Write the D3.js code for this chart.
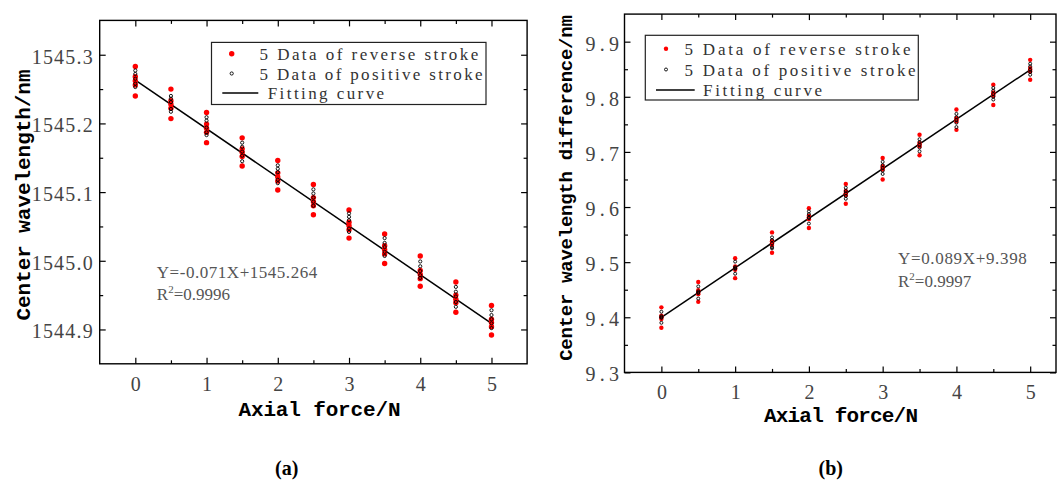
<!DOCTYPE html>
<html><head><meta charset="utf-8">
<script src="https://cdn.jsdelivr.net/npm/d3@7"></script>
<style>body{margin:0;background:#fff;} svg{display:block;}</style>
</head><body>
<svg id="chart" width="1057" height="481"></svg>
<script>
// ---------------- DATA ----------------
const forceLevels = [0, 0.5, 1, 1.5, 2, 2.5, 3, 3.5, 4, 4.5, 5];
const xMajorTicks = [0, 1, 2, 3, 4, 5];
const xMinorTicks = [0.5, 1.5, 2.5, 3.5, 4.5];

// Panel (a): centre wavelength (nm)
const reverseA = [
  [1545.283, 1545.268, 1545.262, 1545.256, 1545.240],
  [1545.250, 1545.233, 1545.228, 1545.222, 1545.207],
  [1545.216, 1545.199, 1545.193, 1545.187, 1545.172],
  [1545.179, 1545.163, 1545.158, 1545.152, 1545.138],
  [1545.146, 1545.128, 1545.122, 1545.116, 1545.103],
  [1545.111, 1545.092, 1545.086, 1545.080, 1545.067],
  [1545.074, 1545.056, 1545.051, 1545.045, 1545.033],
  [1545.039, 1545.022, 1545.016, 1545.010, 1544.996],
  [1545.007, 1544.986, 1544.980, 1544.974, 1544.963],
  [1544.969, 1544.950, 1544.944, 1544.939, 1544.925],
  [1544.935, 1544.915, 1544.910, 1544.904, 1544.892]
];
const positiveA = [
  [1545.277, 1545.272, 1545.265, 1545.258, 1545.253],
  [1545.240, 1545.236, 1545.231, 1545.221, 1545.217],
  [1545.209, 1545.204, 1545.194, 1545.187, 1545.183],
  [1545.172, 1545.166, 1545.159, 1545.153, 1545.145],
  [1545.139, 1545.134, 1545.129, 1545.118, 1545.113],
  [1545.104, 1545.098, 1545.092, 1545.086, 1545.080],
  [1545.069, 1545.064, 1545.059, 1545.047, 1545.042],
  [1545.033, 1545.026, 1545.020, 1545.013, 1545.007],
  [1544.999, 1544.992, 1544.985, 1544.979, 1544.975],
  [1544.962, 1544.955, 1544.948, 1544.940, 1544.933],
  [1544.928, 1544.921, 1544.915, 1544.909, 1544.902]
];
const fitXA = [0, 5];
const fitYA = [1545.263, 1544.909];
const yMajorA = [1544.9, 1545.0, 1545.1, 1545.2, 1545.3];
const yMajorLabelsA = ["1544.9", "1545.0", "1545.1", "1545.2", "1545.3"];
const yMinorA = [1544.95, 1545.05, 1545.15, 1545.25];

// Panel (b): centre wavelength difference (nm)
const reverseB = [
  [9.418, 9.403, 9.400, 9.397, 9.381],
  [9.464, 9.449, 9.445, 9.442, 9.428],
  [9.507, 9.492, 9.489, 9.486, 9.471],
  [9.554, 9.538, 9.534, 9.531, 9.517],
  [9.598, 9.584, 9.581, 9.578, 9.562],
  [9.642, 9.629, 9.625, 9.622, 9.606],
  [9.689, 9.674, 9.671, 9.668, 9.650],
  [9.731, 9.716, 9.713, 9.710, 9.694],
  [9.777, 9.761, 9.758, 9.755, 9.740],
  [9.822, 9.808, 9.805, 9.802, 9.785],
  [9.867, 9.852, 9.849, 9.846, 9.831]
];
const positiveB = [
  [9.410, 9.402, 9.400, 9.399, 9.390],
  [9.456, 9.447, 9.445, 9.444, 9.434],
  [9.501, 9.491, 9.489, 9.488, 9.479],
  [9.545, 9.540, 9.534, 9.527, 9.525],
  [9.592, 9.587, 9.581, 9.580, 9.570],
  [9.635, 9.629, 9.625, 9.620, 9.615],
  [9.682, 9.676, 9.671, 9.666, 9.660],
  [9.723, 9.718, 9.713, 9.708, 9.701],
  [9.769, 9.763, 9.758, 9.753, 9.745],
  [9.816, 9.811, 9.805, 9.800, 9.795],
  [9.860, 9.855, 9.849, 9.845, 9.840]
];
const fitXB = [0, 5];
const fitYB = [9.400, 9.849];
const yMajorB = [9.3, 9.4, 9.5, 9.6, 9.7, 9.8, 9.9];
const yMajorLabelsB = ["9.3", "9.4", "9.5", "9.6", "9.7", "9.8", "9.9"];
const yMinorB = [9.35, 9.45, 9.55, 9.65, 9.75, 9.85];

const legendLabels = ["5 Data of reverse stroke", "5 Data of positive stroke", "Fitting curve"];
const xTitle = "Axial force/N";
const yTitleA = "Center wavelength/nm";
const yTitleB = "Center wavelength difference/nm";
const eqA = ["Y=-0.071X+1545.264", "0.9996"];
const eqB = ["Y=0.089X+9.398", "0.9997"];

// ---------------- LAYOUT ----------------
const svg = d3.select("#chart");
const serif = "'Liberation Serif', 'DejaVu Serif', serif";
const mono = "'Liberation Mono', 'DejaVu Sans Mono', monospace";

const panels = [
  {
    rev: reverseA, pos: positiveA, fitX: fitXA, fitY: fitYA,
    yMajor: yMajorA, yLabels: yMajorLabelsA, yMinor: yMinorA,
    xDomain: [-0.5, 5.5], yDomain: [1544.85, 1545.35],
    left: 99.7, right: 527.1, top: 20.4, bottom: 363.8,
    yLabelPad: 7, yLabelLen: 61, xLabelPad: 13.5,
    redR: 2.7, blackR: 1.6,
    legend: {x0: 211.5, x1: 486, y0: 42.4, y1: 104.5, rows: [53.7, 73.5, 93], mx: 231.7, tx: 259.5, lx0: 222.3, lx1: 258.3, ftx: 267.7, lens: [218.8, 223, 116.4]},
    eq: eqA, eqX: 156.8, eqY: [277.5, 300], eqLen: 160.4,
    yTitle: yTitleA, yTitleX: 30, yTitleY: 195, yTitleLen: 251, yTitleSize: 21,
    xTitleX: 319.5, xTitleY: 415.5, xTitleLen: 162,
    tag: "(a)", tagX: 286.7
  },
  {
    rev: reverseB, pos: positiveB, fitX: fitXB, fitY: fitYB,
    yMajor: yMajorB, yLabels: yMajorLabelsB, yMinor: yMinorB,
    xDomain: [-0.5, 5.35], yDomain: [9.3, 9.95],
    left: 624.5, right: 1056, top: 14.1, bottom: 372.4,
    yLabelPad: 5.5, yLabelLen: 33.6, xLabelPad: 12.4,
    redR: 2.2, blackR: 1.5,
    legend: {x0: 645.3, x1: 918.3, y0: 35.3, y1: 100, rows: [48.7, 69.5, 90], mx: 666, tx: 684.6, lx0: 656, lx1: 694.7, ftx: 703.1, lens: [226, 231, 119]},
    eq: eqB, eqX: 898, eqY: [264, 286.7], eqLen: 128.8,
    yTitle: yTitleB, yTitleX: 572, yTitleY: 188, yTitleLen: 345.6, yTitleSize: 19,
    xTitleX: 841, xTitleY: 421.8, xTitleLen: 154,
    tag: "(b)", tagX: 830.8
  }
];

panels.forEach(p => {
  const x = d3.scaleLinear().domain(p.xDomain).range([p.left, p.right]);
  const y = d3.scaleLinear().domain(p.yDomain).range([p.bottom, p.top]);
  const g = svg.append("g");

  const styleAxis = sel => {
    sel.select(".domain").remove();
    sel.selectAll("line").attr("stroke", "#000").attr("stroke-width", 1.2);
  };

  // bottom axis
  g.append("g").attr("transform", `translate(0,${p.bottom})`)
    .call(d3.axisBottom(x).tickValues(xMajorTicks).tickSize(-6).tickPadding(p.xLabelPad).tickFormat(d3.format("d")))
    .call(styleAxis)
    .call(s => s.selectAll("text").attr("font-family", serif).attr("font-size", 20).attr("fill", "#444"));
  g.append("g").attr("transform", `translate(0,${p.bottom})`)
    .call(d3.axisBottom(x).tickValues(xMinorTicks).tickSize(-3.5).tickFormat(""))
    .call(styleAxis);
  // top axis
  g.append("g").attr("transform", `translate(0,${p.top})`)
    .call(d3.axisTop(x).tickValues(xMajorTicks).tickSize(-6).tickFormat(""))
    .call(styleAxis);
  g.append("g").attr("transform", `translate(0,${p.top})`)
    .call(d3.axisTop(x).tickValues(xMinorTicks).tickSize(-3.5).tickFormat(""))
    .call(styleAxis);
  // left axis
  g.append("g").attr("transform", `translate(${p.left},0)`)
    .call(d3.axisLeft(y).tickValues(p.yMajor).tickSize(-6).tickPadding(p.yLabelPad).tickFormat((d, i) => p.yLabels[i]))
    .call(styleAxis)
    .call(s => s.selectAll("text").attr("font-family", serif).attr("font-size", 20).attr("fill", "#444")
      .attr("dy", "0.42em").attr("textLength", p.yLabelLen).attr("lengthAdjust", "spacing"));
  g.append("g").attr("transform", `translate(${p.left},0)`)
    .call(d3.axisLeft(y).tickValues(p.yMinor).tickSize(-3.5).tickFormat(""))
    .call(styleAxis);
  // right axis
  g.append("g").attr("transform", `translate(${p.right},0)`)
    .call(d3.axisRight(y).tickValues(p.yMajor).tickSize(-6).tickFormat(""))
    .call(styleAxis);
  g.append("g").attr("transform", `translate(${p.right},0)`)
    .call(d3.axisRight(y).tickValues(p.yMinor).tickSize(-3.5).tickFormat(""))
    .call(styleAxis);

  // frame
  g.append("rect").attr("x", p.left).attr("y", p.top)
    .attr("width", p.right - p.left).attr("height", p.bottom - p.top)
    .attr("fill", "none").attr("stroke", "#000").attr("stroke-width", 1.4);

  // fit line
  const fitPts = p.fitX.map((fx, i) => [fx, p.fitY[i]]);
  g.append("path").datum(fitPts)
    .attr("d", d3.line().x(d => x(d[0])).y(d => y(d[1])))
    .attr("stroke", "#000").attr("stroke-width", 1.5).attr("fill", "none");

  // reverse stroke (red filled)
  const revPts = p.rev.flatMap((vals, i) => vals.map(v => [forceLevels[i], v]));
  g.append("g").selectAll("circle").data(revPts).join("circle")
    .attr("cx", d => x(d[0])).attr("cy", d => y(d[1])).attr("r", p.redR)
    .attr("fill", "#ff0000");
  // positive stroke (black open)
  const posPts = p.pos.flatMap((vals, i) => vals.map(v => [forceLevels[i], v]));
  g.append("g").selectAll("circle").data(posPts).join("circle")
    .attr("cx", d => x(d[0])).attr("cy", d => y(d[1])).attr("r", p.blackR)
    .attr("fill", "none").attr("stroke", "#000").attr("stroke-width", 0.9);

  // legend
  const L = p.legend;
  g.append("rect").attr("x", L.x0).attr("y", L.y0).attr("width", L.x1 - L.x0).attr("height", L.y1 - L.y0)
    .attr("fill", "#fff").attr("stroke", "#222").attr("stroke-width", 1.2);
  g.append("circle").attr("cx", L.mx).attr("cy", L.rows[0]).attr("r", p.redR).attr("fill", "#ff0000");
  g.append("circle").attr("cx", L.mx).attr("cy", L.rows[1]).attr("r", p.blackR)
    .attr("fill", "none").attr("stroke", "#000").attr("stroke-width", 0.9);
  g.append("line").attr("x1", L.lx0).attr("x2", L.lx1).attr("y1", L.rows[2]).attr("y2", L.rows[2])
    .attr("stroke", "#000").attr("stroke-width", 1.5);
  legendLabels.forEach((t, i) => {
    g.append("text").attr("x", i === 2 ? L.ftx : L.tx).attr("y", L.rows[i] + 6)
      .attr("font-family", serif).attr("font-size", 17).attr("fill", "#333")
      .attr("textLength", L.lens[i]).attr("lengthAdjust", "spacing").text(t);
  });

  // equation annotation
  g.append("text").attr("x", p.eqX).attr("y", p.eqY[0])
    .attr("font-family", serif).attr("font-size", 17).attr("fill", "#555")
    .attr("textLength", p.eqLen).attr("lengthAdjust", "spacing").text(p.eq[0]);
  const r2 = g.append("text").attr("x", p.eqX).attr("y", p.eqY[1])
    .attr("font-family", serif).attr("font-size", 17).attr("fill", "#555");
  r2.append("tspan").text("R");
  r2.append("tspan").attr("font-size", 11).attr("dy", -7).text("2");
  r2.append("tspan").attr("dy", 7).text("=" + p.eq[1]);

  // axis titles
  g.append("text").attr("x", p.xTitleX).attr("y", p.xTitleY).attr("text-anchor", "middle")
    .attr("font-family", mono).attr("font-weight", "bold").attr("font-size", 21).attr("fill", "#000")
    .attr("textLength", p.xTitleLen).attr("lengthAdjust", "spacing").text(xTitle);
  g.append("text").attr("transform", `translate(${p.yTitleX},${p.yTitleY}) rotate(-90)`)
    .attr("text-anchor", "middle")
    .attr("font-family", mono).attr("font-weight", "bold").attr("font-size", p.yTitleSize).attr("fill", "#000")
    .attr("textLength", p.yTitleLen).attr("lengthAdjust", "spacing").text(p.yTitle);

  // panel tag
  g.append("text").attr("x", p.tagX).attr("y", 475).attr("text-anchor", "middle")
    .attr("font-family", serif).attr("font-weight", "bold").attr("font-size", 20).attr("fill", "#000")
    .text(p.tag);
});
</script>
</body></html>
